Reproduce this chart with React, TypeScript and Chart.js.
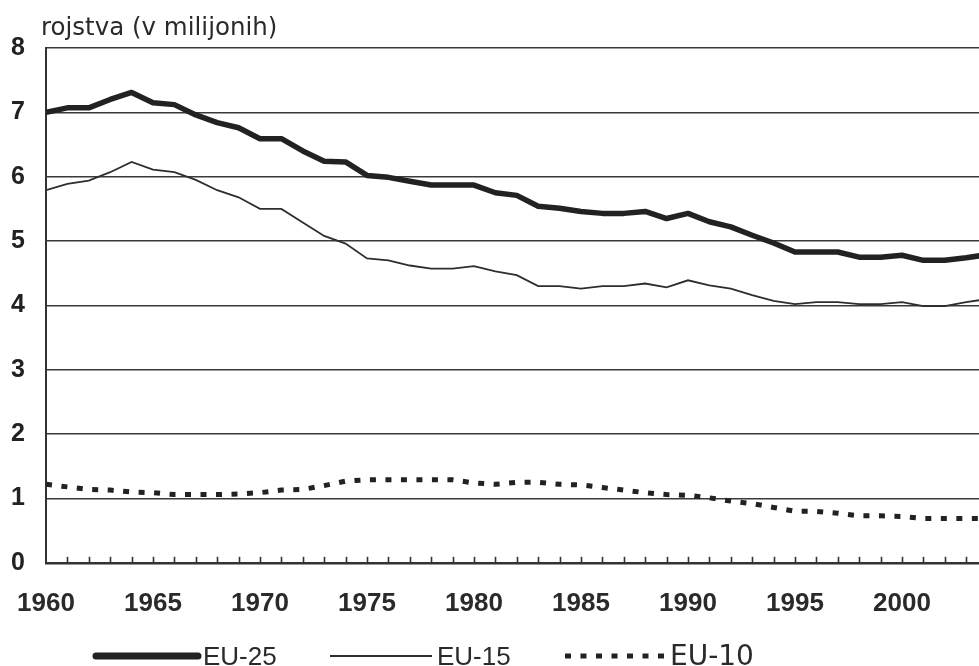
import React, { useEffect, useRef } from "react";
import { Chart, registerables } from "chart.js";

Chart.register(...registerables);

const YEARS = [
  1960, 1961, 1962, 1963, 1964, 1965, 1966, 1967, 1968, 1969,
  1970, 1971, 1972, 1973, 1974, 1975, 1976, 1977, 1978, 1979,
  1980, 1981, 1982, 1983, 1984, 1985, 1986, 1987, 1988, 1989,
  1990, 1991, 1992, 1993, 1994, 1995, 1996, 1997, 1998, 1999,
  2000, 2001, 2002, 2003, 2004,
];

const EU25 = [
  7.0, 7.07, 7.07, 7.2, 7.31, 7.15, 7.12, 6.96, 6.84, 6.76,
  6.59, 6.59, 6.4, 6.24, 6.23, 6.02, 5.99, 5.93, 5.87, 5.87,
  5.87, 5.75, 5.71, 5.54, 5.51, 5.46, 5.43, 5.43, 5.46, 5.35,
  5.43, 5.3, 5.22, 5.09, 4.97, 4.83, 4.83, 4.83, 4.75, 4.75,
  4.78, 4.7, 4.7, 4.74, 4.79,
];

const EU15 = [
  5.79, 5.89, 5.94, 6.07, 6.23, 6.11, 6.07, 5.95, 5.79, 5.68,
  5.5, 5.5, 5.29, 5.08, 4.96, 4.73, 4.7, 4.62, 4.57, 4.57,
  4.61, 4.53, 4.47, 4.3, 4.3, 4.26, 4.3, 4.3, 4.34, 4.28,
  4.39, 4.31, 4.26, 4.16, 4.07, 4.02, 4.05, 4.05, 4.02, 4.02,
  4.05, 3.99, 3.99, 4.05, 4.1,
];

const EU10 = [
  1.22, 1.18, 1.14, 1.13, 1.1, 1.09, 1.06, 1.06, 1.06, 1.07,
  1.09, 1.13, 1.14, 1.2, 1.27, 1.29, 1.29, 1.29, 1.29, 1.29,
  1.24, 1.22, 1.25, 1.25, 1.22, 1.21, 1.17, 1.13, 1.09, 1.06,
  1.05, 1.01, 0.96, 0.92, 0.86, 0.8, 0.8, 0.77, 0.73, 0.73,
  0.72, 0.69, 0.69, 0.69, 0.69,
];

const X_TICKS = [1960, 1965, 1970, 1975, 1980, 1985, 1990, 1995, 2000];
const Y_TICKS = [0, 1, 2, 3, 4, 5, 6, 7, 8];
const X_MIN = 1960;
const X_MAX = 2003.6;
const TITLE = "rojstva (v milijonih)";
const SERIES_LABELS = ["EU-25", "EU-15", "EU-10"];

const INK = "#222222";

const decorPlugin = {
  id: "decor",
  afterDatasetsDraw(chart: any) {
    const ctx = chart.ctx;
    const xs = chart.scales.x;
    const ys = chart.scales.y;
    ctx.save();
    // minor ticks along the x axis (inward)
    ctx.strokeStyle = "#333333";
    ctx.lineWidth = 1.6;
    const y0 = ys.getPixelForValue(0);
    YEARS.forEach((yr) => {
      if (yr <= X_MIN || yr > X_MAX) return;
      const px = Math.round(xs.getPixelForValue(yr)) + 0.5;
      ctx.beginPath();
      ctx.moveTo(px, y0);
      ctx.lineTo(px, y0 - 6);
      ctx.stroke();
    });
    ctx.restore();
  },
  afterDraw(chart: any) {
    const ctx = chart.ctx;
    const area = chart.chartArea;
    ctx.save();
    // title
    ctx.fillStyle = "#2a2a2a";
    ctx.font = "24.5px 'DejaVu Sans'";
    ctx.textBaseline = "alphabetic";
    ctx.textAlign = "left";
    ctx.fillText(TITLE, area.left - 5, 35);

    // legend
    const starts = [96, 330, 565];
    const lens = [102, 102, 100];
    const fonts = [
      "26px 'Liberation Sans'",
      "26px 'Liberation Sans'",
      "28px 'DejaVu Sans'",
    ];
    const widths = [7, 2, 5];
    const ly = 656;
    chart.data.datasets.forEach((ds: any, i: number) => {
      ctx.save();
      ctx.strokeStyle = ds.borderColor;
      ctx.lineWidth = widths[i];
      ctx.lineCap = i === 0 ? "round" : "butt";
      ctx.setLineDash(ds.borderDash || []);
      ctx.beginPath();
      ctx.moveTo(starts[i], ly);
      ctx.lineTo(starts[i] + lens[i], ly);
      ctx.stroke();
      ctx.restore();
      ctx.fillStyle = "#2a2a2a";
      ctx.font = fonts[i];
      ctx.textBaseline = "alphabetic";
      ctx.textAlign = "left";
      ctx.fillText(SERIES_LABELS[i], starts[i] + lens[i] + 5, 665);
    });
    ctx.restore();
  },
};

export default function App() {
  const ref = useRef<HTMLCanvasElement | null>(null);

  useEffect(() => {
    document.body.style.margin = "0";
    const canvas = ref.current;
    if (!canvas) return;
    const mk = (vals: number[]) => YEARS.map((y, i) => ({ x: y, y: vals[i] }));
    const chart = new Chart(canvas, {
      type: "line",
      data: {
        datasets: [
          {
            label: SERIES_LABELS[0],
            data: mk(EU25),
            borderColor: INK,
            borderWidth: 5.5,
            pointRadius: 0,
            tension: 0,
            borderJoinStyle: "round",
          },
          {
            label: SERIES_LABELS[1],
            data: mk(EU15),
            borderColor: "#2e2e2e",
            borderWidth: 1.8,
            pointRadius: 0,
            tension: 0,
          },
          {
            label: SERIES_LABELS[2],
            data: mk(EU10),
            borderColor: INK,
            borderWidth: 5,
            borderDash: [6, 9.5],
            pointRadius: 0,
            tension: 0,
          },
        ],
      } as any,
      options: {
        responsive: false,
        animation: false,
        layout: { padding: { top: 48, left: 0, right: 0, bottom: 22 } },
        plugins: {
          legend: { display: false },
          tooltip: { enabled: false },
          title: { display: false },
        },
        scales: {
          x: {
            type: "linear",
            min: X_MIN,
            max: X_MAX,
            afterBuildTicks: (scale: any) => {
              scale.ticks = X_TICKS.map((v) => ({ value: v }));
            },
            afterFit: (scale: any) => {
              scale.paddingLeft = 0;
              scale.paddingRight = 0;
            },
            ticks: {
              autoSkip: false,
              maxRotation: 0,
              padding: 25,
              color: "#2a2a2a",
              font: { family: "'Liberation Sans'", size: 26, weight: "bold" },
              callback: (v: any) => String(v),
            },
            grid: { display: false, drawTicks: false },
            border: { display: true, color: "#333333", width: 2.5 },
          },
          y: {
            min: 0,
            max: 8,
            afterBuildTicks: (scale: any) => {
              scale.ticks = Y_TICKS.map((v) => ({ value: v }));
            },
            afterFit: (scale: any) => {
              scale.width = 46;
            },
            ticks: {
              padding: 21,
              color: "#222222",
              font: { family: "'Liberation Sans'", size: 25, weight: "bold" },
            },
            grid: {
              color: "#3a3a3a",
              lineWidth: 1.5,
              drawTicks: false,
            },
            border: { display: true, color: "#333333", width: 2 },
          },
        },
      } as any,
      plugins: [decorPlugin],
    });
    return () => chart.destroy();
  }, []);

  return (
    <div style={{ width: 979, height: 666, background: "#fff" }}>
      <canvas ref={ref} width={979} height={666} style={{ display: "block" }} />
    </div>
  );
}
